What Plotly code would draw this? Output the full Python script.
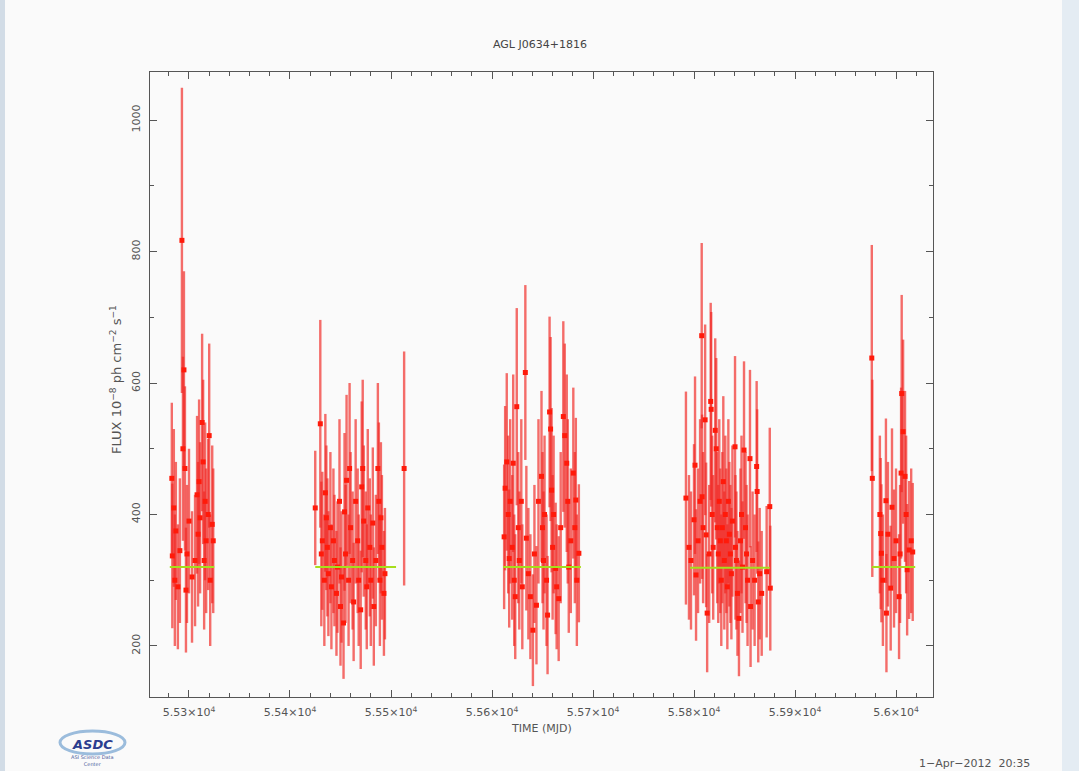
import plotly.graph_objects as go

# ---------------- data ----------------
c1_mjd = [55283, 55283.5, 55285, 55286, 55287, 55289, 55291, 55293, 55294, 55295, 55296, 55297, 55298, 55300,
          55303, 55306, 55308, 55309, 55310, 55311, 55313, 55314, 55315, 55316, 55317, 55319, 55320, 55321, 55323, 55324]
c1_flux = [455, 337, 410, 300, 375, 290, 345, 817, 500, 620, 470, 285, 340, 390,
           305, 330, 430, 370, 450, 395, 540, 480, 330, 420, 360, 400, 520, 300, 385, 360]
c1_err = [115, 110, 120, 100, 105, 95, 110, 232, 140, 150, 125, 95, 105, 110,
          100, 100, 120, 110, 125, 115, 135, 125, 105, 120, 110, 115, 140, 100, 120, 110]

c2_mjd = [55425, 55430, 55431, 55432, 55434, 55435, 55436, 55437, 55438, 55440, 55441, 55443, 55444, 55446,
          55447, 55449, 55450, 55451, 55453, 55454, 55455, 55456, 55458, 55459, 55460, 55462, 55463, 55465,
          55467, 55468, 55470, 55471, 55472, 55473, 55475, 55476, 55477, 55479, 55480, 55482, 55483, 55485,
          55487, 55488, 55489, 55490, 55491, 55493, 55494, 55513]
c2_flux = [410, 538, 340, 360, 300, 433, 395, 350, 310, 380, 290, 360, 330, 280,
           320, 420, 260, 305, 235, 404, 340, 452, 300, 470, 380, 330, 267, 420,
           360, 300, 255, 442, 470, 390, 330, 290, 410, 350, 300, 387, 260, 330,
           470, 420, 300, 395, 350, 280, 310, 470]
c2_err = [87, 158, 110, 105, 100, 120, 110, 105, 95, 115, 95, 110, 100, 95,
          100, 125, 90, 100, 85, 120, 105, 130, 100, 130, 115, 105, 90, 125,
          110, 100, 90, 130, 135, 115, 105, 95, 120, 105, 100, 115, 90, 100,
          130, 120, 100, 115, 110, 95, 100, 178]

c3_mjd = [55612, 55613, 55614.6, 55616, 55617, 55618, 55620, 55621, 55622, 55623, 55624.5, 55626, 55627,
          55629, 55630, 55633, 55634, 55636, 55638, 55640.5, 55642, 55644, 55646, 55649, 55650, 55651,
          55652, 55654, 55655, 55657, 55658, 55659, 55660, 55661, 55663, 55664, 55666, 55668, 55670.6,
          55672, 55674, 55675, 55676, 55678, 55680.5, 55682, 55683, 55684, 55686]
c3_flux = [366, 440, 480, 400, 333, 420, 350, 478, 300, 275, 564, 380, 330,
           420, 290, 616, 364, 310, 275, 224, 340, 262, 420, 458, 380, 330,
           400, 300, 247, 556, 530, 437, 350, 400, 318, 290, 272, 380, 549,
           520, 478, 420, 320, 360, 463, 380, 422, 300, 341]
c3_err = [110, 125, 135, 120, 105, 125, 110, 135, 100, 95, 150, 115, 105,
          125, 95, 133, 110, 100, 95, 85, 105, 90, 125, 130, 115, 105,
          120, 100, 90, 145, 140, 125, 110, 120, 100, 95, 95, 115, 145,
          140, 135, 125, 100, 110, 130, 115, 125, 100, 105]

c4_mjd = [55792, 55795, 55797, 55800, 55801, 55802, 55804, 55806, 55807.6, 55808, 55809, 55811, 55812,
          55813, 55815, 55816.5, 55817, 55818, 55819, 55821, 55822, 55823, 55824, 55825, 55826, 55827,
          55828, 55829, 55830, 55831, 55832, 55833, 55834, 55835, 55836, 55837, 55838, 55840.6, 55841,
          55842, 55843, 55844.5, 55846, 55847, 55848, 55849.5, 55851, 55852, 55853, 55855.4, 55856,
          55858, 55860, 55862, 55862.5, 55863.6, 55865, 55867, 55871.9, 55875, 55875.5]
c4_flux = [425, 350, 330, 392, 475, 308, 360, 420, 672, 427, 380, 544, 369,
           250, 340, 572, 560, 400, 350, 528, 500, 380, 340, 420, 360, 300,
           380, 450, 330, 400, 360, 290, 420, 370, 340, 310, 390, 503, 350,
           330, 280, 242, 360, 400, 320, 498, 380, 340, 300, 485, 260,
           330, 300, 473, 435, 267, 310, 280, 313, 412, 288]
c4_err = [162, 110, 105, 115, 135, 100, 110, 125, 141, 125, 115, 145, 110,
          90, 105, 150, 148, 120, 110, 140, 138, 115, 105, 125, 110, 100,
          115, 130, 105, 120, 110, 95, 125, 110, 105, 100, 115, 138, 110,
          105, 95, 88, 110, 120, 100, 135, 115, 105, 100, 135, 92,
          105, 100, 130, 125, 92, 100, 95, 100, 120, 95]

c5_mjd = [55976, 55976.5, 55984, 55984.8, 55985.5, 55987, 55990, 55990.5, 55992, 55994.7, 55996, 55998,
          56000, 56003, 56004, 56005, 56005.6, 56007, 56008.9, 56010, 56011, 56013, 56015, 56016.5]
c5_flux = [638, 455, 400, 371, 341, 300, 421, 250, 370, 288, 411, 333,
           360, 275, 340, 463, 584, 526, 458, 400, 316, 346, 360, 343]
c5_err = [172, 150, 120, 115, 105, 100, 125, 90, 110, 95, 120, 105,
          110, 95, 105, 130, 150, 140, 130, 120, 100, 105, 110, 105]

# mean-flux segments (start, end, level) per observing period
seg_start = [55281, 55425, 55611, 55796, 55976]
seg_end = [55325, 55505, 55688, 55875, 56019]
seg_level = [320, 320, 320, 319, 320]

x_tickvals = [55300, 55400, 55500, 55600, 55700, 55800, 55900, 56000]
x_ticktext = ["5.53×10<sup>4</sup>", "5.54×10<sup>4</sup>", "5.55×10<sup>4</sup>", "5.56×10<sup>4</sup>",
              "5.57×10<sup>4</sup>", "5.58×10<sup>4</sup>", "5.59×10<sup>4</sup>", "5.6×10<sup>4</sup>"]
y_tickvals = [200, 400, 600, 800, 1000]

# ---------------- figure ----------------
W, H = 1079, 771
L, R, T, B = 150, 933, 72, 697


def px(x):
    return (x - L) / (R - L)


def py(y):
    return (B - y) / (B - T)


mjd = c1_mjd + c2_mjd + c3_mjd + c4_mjd + c5_mjd
flux = c1_flux + c2_flux + c3_flux + c4_flux + c5_flux
err = c1_err + c2_err + c3_err + c4_err + c5_err

fig = go.Figure()
fig.add_trace(go.Scatter(
    x=mjd, y=flux, mode="markers",
    marker=dict(symbol="square", size=5, color="#ff1a0a", line=dict(width=0)),
    error_y=dict(type="data", array=err, visible=True, color="rgba(240,40,35,0.68)",
                 thickness=2.4, width=0),
    showlegend=False, hoverinfo="skip"))

for s, e, lv in zip(seg_start, seg_end, seg_level):
    fig.add_trace(go.Scatter(x=[s, e], y=[lv, lv], mode="lines",
                             line=dict(color="#a6de1c", width=2),
                             showlegend=False, hoverinfo="skip"))

FONT = "DejaVu Sans, Liberation Sans, sans-serif"
axis_font = dict(family=FONT, size=11, color="#555555")

fig.update_layout(
    width=W, height=H,
    margin=dict(l=L, r=W - R, t=T, b=H - B, pad=0),
    paper_bgcolor="#fafafa", plot_bgcolor="#fafafa",
    font=axis_font,
    xaxis=dict(range=[55261.4, 56036.6], tickmode="array", tickvals=x_tickvals, ticktext=x_ticktext,
               ticks="inside", ticklen=7, tickcolor="#555555", tickwidth=1,
               minor=dict(dtick=20, ticks="inside", ticklen=4, tickcolor="#555555", tick0=55300),
               showline=True, linecolor="#555555", linewidth=1, mirror="allticks",
               showgrid=False, zeroline=False, tickfont=axis_font, ticklabelstandoff=5),
    yaxis=dict(range=[122.4, 1073.1], tickmode="array", tickvals=y_tickvals,
               ticks="inside", ticklen=7, tickcolor="#555555", tickwidth=1, tickangle=-90,
               minor=dict(dtick=100, ticks="inside", ticklen=4, tickcolor="#555555", tick0=0),
               showline=True, linecolor="#555555", linewidth=1, mirror="allticks",
               showgrid=False, zeroline=False, tickfont=axis_font, ticklabelstandoff=5),
)

ann = []
ann.append(dict(text="AGL J0634+1816", x=px(540), y=py(44), xref="paper", yref="paper",
                xanchor="center", yanchor="middle",
                showarrow=False, font=dict(family=FONT, size=11, color="#444444")))
ann.append(dict(text="TIME (MJD)", x=px(541), y=py(728), xref="paper", yref="paper",
                xanchor="center", yanchor="middle",
                showarrow=False, font=dict(family=FONT, size=11, color="#555555")))
ann.append(dict(text="FLUX 10<sup>−8</sup> ph cm<sup>−2</sup> s<sup>−1</sup>", x=px(116), y=py(380),
                xref="paper", yref="paper", textangle=-90, showarrow=False,
                xanchor="center", yanchor="middle",
                font=dict(family=FONT, size=13, color="#555555")))
ann.append(dict(text="1−Apr−2012  20:35", x=px(974), y=py(763), xref="paper", yref="paper",
                xanchor="center", yanchor="middle",
                showarrow=False, font=dict(family=FONT, size=11, color="#555555")))
ann.append(dict(text="<b><i>ASDC</i></b>", x=px(92), y=py(744), xref="paper", yref="paper",
                xanchor="center", yanchor="middle",
                showarrow=False, font=dict(family=FONT, size=13, color="#2b3d8f")))
ann.append(dict(text="ASI Science Data<br>Center", x=px(92), y=py(760), xref="paper", yref="paper",
                xanchor="center", yanchor="middle",
                showarrow=False, font=dict(family=FONT, size=5, color="#4a5a9a")))
fig.update_layout(annotations=ann)

shapes = []
# ASDC logo ellipse
shapes.append(dict(type="circle", xref="paper", yref="paper", x0=px(60), x1=px(125), y0=py(754), y1=py(731),
                   line=dict(color="#9bbcdc", width=3)))
# window edges
shapes.append(dict(type="rect", xref="paper", yref="paper", x0=px(0), x1=px(5), y0=py(771), y1=py(0),
                   line=dict(width=0), fillcolor="#d2dce6", layer="below"))
shapes.append(dict(type="rect", xref="paper", yref="paper", x0=px(1062), x1=px(1079), y0=py(771), y1=py(0),
                   line=dict(width=0), fillcolor="#e4ecf3", layer="below"))
fig.update_layout(shapes=shapes)

fig.write_html("out.html")
